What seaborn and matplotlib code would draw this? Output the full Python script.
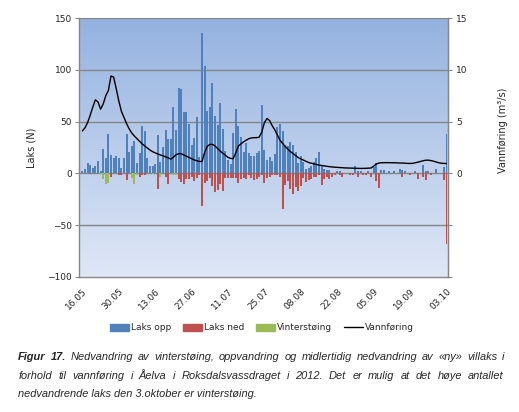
import numpy as np
import matplotlib
matplotlib.use("Agg")
import matplotlib.pyplot as plt
import seaborn as sns
from matplotlib.patches import Patch
from matplotlib.lines import Line2D

# daily counts 16.05 - 03.10 (2012), day index 0..140
laks_opp = [2, 4, 10, 8, 5, 7, 12, 2, 24, 15,
            38, 18, 15, 17, 15, 5, 15, 38, 21, 26,
            31, 10, 20, 46, 41, 15, 7, 7, 9, 37,
            11, 25, 42, 33, 33, 64, 42, 82, 81, 59,
            59, 48, 27, 34, 54, 16, 136, 104, 60, 64,
            87, 55, 47, 68, 43, 22, 13, 9, 39, 62,
            46, 35, 21, 29, 20, 17, 17, 20, 22, 66,
            23, 13, 16, 12, 19, 45, 48, 41, 27, 26,
            30, 27, 21, 10, 17, 11, 4, 5, 7, 11,
            15, 21, 7, 4, 3, 3, 0, 0, 2, 2,
            0, 0, 0, 0, 0, 7, 2, 2, 0, 0,
            2, 0, 6, 10, 0, 3, 3, 0, 2, 0,
            2, 0, 4, 3, 2, 0, 0, 0, 2, 0,
            0, 8, 2, 2, 0, 0, 4, 0, 0, 6,
            38]
laks_ned = [0, 0, 0, -1, 0, 0, 0, 0, 0, 0,
            0, -3, 0, 0, -2, -2, 0, -6, 0, 0,
            0, 0, -3, -2, -2, 0, 0, 0, 0, -15,
            0, 0, -3, -10, 0, 0, 0, -5, -8, -10,
            -5, -5, -3, -7, -4, -2, -31, -9, -7, -4,
            -12, -18, -16, -10, -17, -4, -4, -4, -4, -4,
            -9, -5, -4, -5, -2, -4, -6, -5, -3, -2,
            -9, -4, -3, -2, -2, -2, -3, -34, -11, -7,
            -15, -20, -13, -17, -12, -4, -8, -6, -5, -3,
            -3, -2, -11, -5, -3, -5, -3, -2, 0, -2,
            -3, 0, 0, -2, -2, 0, -3, 0, -2, -2,
            0, -3, 0, -7, -14, 0, 0, 0, 0, 0,
            0, 0, 0, -3, 0, 0, -2, 0, 0, -5,
            0, -3, -6, 0, -2, 0, 0, 0, 0, -6,
            -68]
vinterstoing = [0, 0, 0, 0, 0, 0, 0, -1, -5, -10,
                -9, 0, 0, 0, 0, 0, 0, 0, 0, -4,
                -10, -2, 0, 0, 0, 0, 0, -1, 0, 0,
                -3, 0, 0, 0, 0, -2, -2] + [0] * 104
vannforing = [4.1, 4.4, 4.9, 5.6, 6.4, 7.1, 6.9, 6.2, 6.7, 7.5,
              8.0, 9.4, 9.3, 8.2, 7.0, 6.0, 5.4, 4.8, 4.3, 3.9,
              3.6, 3.35, 3.1, 2.85, 2.65, 2.45, 2.25, 2.1, 1.98, 1.88,
              1.78, 1.7, 1.6, 1.5, 1.38, 1.55, 1.8, 1.9, 1.9, 1.78,
              1.65, 1.55, 1.42, 1.3, 1.22, 1.15, 1.15, 2.0, 2.6, 2.8,
              2.8, 2.65, 2.4, 2.15, 1.95, 1.75, 1.55, 1.45, 1.42, 2.0,
              2.65, 2.85, 3.05, 3.2, 3.35, 3.42, 3.45, 3.45, 3.5, 4.0,
              4.9, 5.3, 5.1, 4.6, 4.2, 3.7, 3.2, 2.9, 2.6, 2.35,
              2.1, 1.92, 1.72, 1.52, 1.4, 1.28, 1.15, 1.05, 0.98, 0.92,
              0.86, 0.8, 0.76, 0.72, 0.68, 0.65, 0.62, 0.6, 0.58, 0.57,
              0.55, 0.53, 0.52, 0.51, 0.5, 0.49, 0.48, 0.48, 0.48, 0.49,
              0.5, 0.52, 0.7, 0.9, 1.0, 1.03, 1.04, 1.04, 1.03, 1.03,
              1.03, 1.02, 1.0, 1.0, 0.98, 0.97, 0.96, 0.97, 1.02, 1.08,
              1.15, 1.22, 1.27, 1.28, 1.24, 1.18, 1.1, 1.03, 0.98, 0.96,
              0.95]
tick_labels = ["16.05", "30.05", "13.06", "27.06", "11.07", "25.07",
               "08.08", "22.08", "05.09", "19.09", "03.10"]

days = np.arange(len(laks_opp))

sns.set_style("white")
plt.rcParams["font.family"] = ["DejaVu Sans"]

W, H = 519, 412
fig = plt.figure(figsize=(W / 100, H / 100), dpi=100)
ax = fig.add_axes([79 / W, 1 - 277 / H, 369 / W, 259 / H])

# gradient background
grad = np.linspace(0, 1, 256).reshape(-1, 1)
cmap = matplotlib.colors.LinearSegmentedColormap.from_list("bg", ["#94b2e0", "#dfe7f6"])
ax.imshow(grad, aspect="auto", cmap=cmap, extent=[0, 1, 0, 1],
          transform=ax.transAxes, zorder=0)

blue, red, green = "#4f81bd", "#c0504d", "#9bbb59"
bar_kw = dict(saturation=1, width=0.72, linewidth=0, edgecolor="none", ax=ax, zorder=2)
sns.barplot(x=days, y=laks_opp, color=blue, **bar_kw)
sns.barplot(x=days, y=laks_ned, color=red, **bar_kw)
sns.barplot(x=days, y=vinterstoing, color=green, **bar_kw)

ax.set_xlim(-1.3, 140.6)
ax.set_ylim(-100, 150)
ax.set_yticks([-100, -50, 0, 50, 100, 150])
ax.set_xticks(np.arange(0, 141, 14))
ax.set_xticklabels(tick_labels, rotation=45, ha="right", rotation_mode="anchor")
for g in [-50, 0, 50, 100, 150]:
    ax.axhline(g, color="#868686", lw=1.0, zorder=1)
ax.tick_params(axis="y", labelsize=6.5, length=3, color="#868686", pad=2, left=True)
ax.tick_params(axis="x", labelsize=6.5, length=0, pad=7)
for s in ax.spines.values():
    s.set_color("#868686")
    s.set_linewidth(1.0)
ax.spines["top"].set_visible(False)
ax.set_xlabel("")
ax.set_ylabel("Laks (N)", fontsize=7, labelpad=8)

ax2 = ax.twinx()
sns.lineplot(x=days, y=vannforing, color="black", lw=1.0, ax=ax2)
ax2.set_ylim(-10, 15)
ax2.set_yticks([-10, -5, 0, 5, 10, 15])
ax2.set_yticklabels(["", "", "0", "5", "10", "15"])
ax2.tick_params(axis="y", labelsize=6.5, length=3, color="#868686", pad=3, right=True)
for s in ax2.spines.values():
    s.set_visible(False)
ax2.spines["right"].set_visible(True)
ax2.spines["right"].set_color("#868686")
ax2.set_ylabel("Vannføring (m³/s)", fontsize=7, labelpad=6)
ax2.yaxis.set_label_coords(1 + 50 / 369, (277 - 130) / 259)
ax2.set_xlim(-1.3, 140.6)

handles = [Patch(color=blue, label="Laks opp"),
           Patch(color=red, label="Laks ned"),
           Patch(color=green, label="Vinterstøing"),
           Line2D([], [], color="black", lw=1.0, label="Vannføring")]
fig.legend(handles=handles, loc="center", bbox_to_anchor=(262 / W, 1 - 328 / H),
           ncol=4, frameon=False, fontsize=6.5, handlelength=2.1,
           handleheight=0.7, handletextpad=0.2, columnspacing=1.3)

# caption, justified lines
cap_font = dict(family="Liberation Sans", style="italic", fontsize=7.9, va="center")
renderer = fig.canvas.get_renderer()


def justify(words, y, x0, x1, n_bold=0):
    texts = []
    for k, w in enumerate(words):
        t = fig.text(0, 1 - y / H, w, weight="bold" if k < n_bold else "normal", **cap_font)
        texts.append(t)
    widths = [t.get_window_extent(renderer).width for t in texts]
    gap = (x1 - x0 - sum(widths)) / (len(words) - 1)
    x = x0
    for t, wd in zip(texts, widths):
        t.set_x(x / W)
        x += wd + gap


line1 = "Figur 17. Nedvandring av vinterstøing, oppvandring og midlertidig nedvandring av «ny» villaks i"
line2 = "forhold til vannføring i Åelva i Roksdalsvassdraget i 2012. Det er mulig at det høye antallet"
line3 = "nedvandrende laks den 3.oktober er vinterstøing."
justify(line1.split(), 357.5, 18.3, 504.5, n_bold=2)
justify(line2.split(), 376, 18.3, 503.5)
fig.text(18.3 / W, 1 - 394.3 / H, line3, **cap_font)

fig.savefig("out.png", dpi=100)
